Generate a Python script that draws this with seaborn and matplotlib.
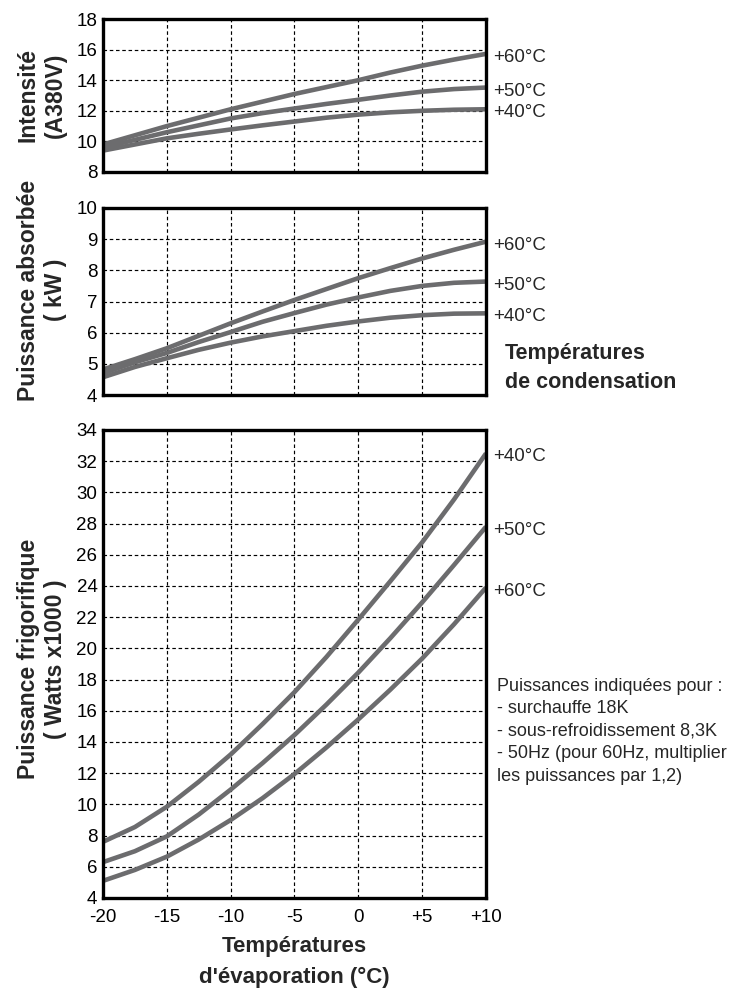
import matplotlib
matplotlib.use('Agg')
import matplotlib.pyplot as plt
import seaborn as sns
import pandas as pd

# ---------------- data ----------------
evap = [-20, -17.5, -15, -12.5, -10, -7.5, -5, -2.5, 0, 2.5, 5, 7.5, 10]
cond_labels = ['+40°C', '+50°C', '+60°C']

amp_40 = [9.4, 9.8, 10.2, 10.5, 10.78, 11.05, 11.3, 11.55, 11.75, 11.9, 12.0, 12.07, 12.1]
amp_50 = [9.6, 10.1, 10.6, 11.05, 11.5, 11.85, 12.15, 12.45, 12.72, 13.0, 13.25, 13.42, 13.52]
amp_60 = [9.8, 10.4, 11.0, 11.55, 12.1, 12.6, 13.1, 13.55, 14.0, 14.5, 14.95, 15.35, 15.72]

kw_40 = [4.57, 4.9, 5.18, 5.45, 5.68, 5.88, 6.05, 6.22, 6.36, 6.48, 6.56, 6.61, 6.62]
kw_50 = [4.7, 5.05, 5.35, 5.7, 6.02, 6.35, 6.63, 6.9, 7.13, 7.34, 7.5, 7.6, 7.64]
kw_60 = [4.82, 5.15, 5.5, 5.9, 6.3, 6.68, 7.05, 7.4, 7.75, 8.07, 8.38, 8.66, 8.92]

fr_40 = [7.6, 8.55, 9.85, 11.45, 13.2, 15.15, 17.2, 19.45, 21.85, 24.3, 26.8, 29.55, 32.5]
fr_50 = [6.3, 7.0, 7.95, 9.35, 10.95, 12.65, 14.45, 16.4, 18.45, 20.65, 22.95, 25.35, 27.8]
fr_60 = [5.1, 5.8, 6.65, 7.75, 9.0, 10.4, 11.95, 13.65, 15.45, 17.35, 19.35, 21.55, 23.9]

xticks = [-20, -15, -10, -5, 0, 5, 10]
xtick_labels = ['-20', '-15', '-10', '-5', '0', '+5', '+10']

amp_ticks = [8, 10, 12, 14, 16, 18]
kw_ticks = [4, 5, 6, 7, 8, 9, 10]
fr_ticks = list(range(4, 35, 2))

# ---------------- style ----------------
sns.set_style('white')
plt.rcParams['font.family'] = ['Liberation Sans', 'DejaVu Sans']

GRAY = '#6c6c6e'
fig = plt.figure(figsize=(7.52, 9.9), dpi=100)
L, W = 103 / 752, 383 / 752


def box(top, bottom):
    return [L, 1 - bottom / 990, W, (bottom - top) / 990]


ax1 = fig.add_axes(box(19, 172))
ax2 = fig.add_axes(box(208, 395))
ax3 = fig.add_axes(box(430, 898))

panels = [
    (ax1, [amp_40, amp_50, amp_60], amp_ticks, 'Intensité\n(A380V)', 0.5),
    (ax2, [kw_40, kw_50, kw_60], kw_ticks, 'Puissance absorbée\n( kW )', 0.56),
    (ax3, [fr_40, fr_50, fr_60], fr_ticks, 'Puissance frigorifique\n( Watts x1000 )', 0.51),
]

for ax, series, yt, ylab, ylab_y in panels:
    df = pd.DataFrame({
        'evap': evap * 3,
        'val': series[0] + series[1] + series[2],
        'cond': sum([[c] * len(evap) for c in cond_labels], []),
    })
    sns.lineplot(data=df, x='evap', y='val', hue='cond', palette=[GRAY] * 3,
                 linewidth=3.3, legend=False, errorbar=None, ax=ax,
                 solid_capstyle='butt')
    ax.set_xlim(-20, 10)
    ax.set_ylim(yt[0], yt[-1])
    ax.set_xticks(xticks)
    ax.set_yticks(yt)
    ax.set_yticklabels([str(t) for t in yt])
    ax.grid(True, color='black', linestyle=(0, (3, 2.3)), linewidth=0.85)
    ax.set_axisbelow(True)
    for sp in ax.spines.values():
        sp.set_visible(True)
        sp.set_color('black')
        sp.set_linewidth(2.4)
    ax.tick_params(length=0, labelsize=13.5, pad=4, colors='black')
    ax.set_xlabel('')
    ax.set_ylabel(ylab, fontsize=16.5, fontweight='bold', va='center', ha='center',
                  multialignment='center', linespacing=1.25)
    ax.yaxis.set_label_coords(-0.159, ylab_y)
    for name, s in zip(cond_labels, series):
        ax.annotate(name, xy=(10, s[-1]), xytext=(5, -2.5), textcoords='offset points',
                    va='center', ha='left', fontsize=13.5, annotation_clip=False)

for ax in (ax1, ax2):
    ax.tick_params(labelbottom=False)

ax3.set_xticklabels(xtick_labels)
ax3.tick_params(axis='x', pad=8)
ax3.set_xlabel('Températures\nd\'évaporation (°C)', fontsize=16, fontweight='bold',
               linespacing=1.6, labelpad=7)

fig.text(505 / 752, 1 - 368 / 990, 'Températures\nde condensation', fontsize=15.5,
         fontweight='bold', ha='left', va='center', linespacing=1.5)

fig.text(497 / 752, 1 - 678 / 990,
         'Puissances indiquées pour :\n- surchauffe 18K\n- sous-refroidissement 8,3K\n'
         '- 50Hz (pour 60Hz, multiplier\nles puissances par 1,2)',
         fontsize=13, ha='left', va='top', linespacing=1.42)

fig.savefig('out.png', dpi=100)
